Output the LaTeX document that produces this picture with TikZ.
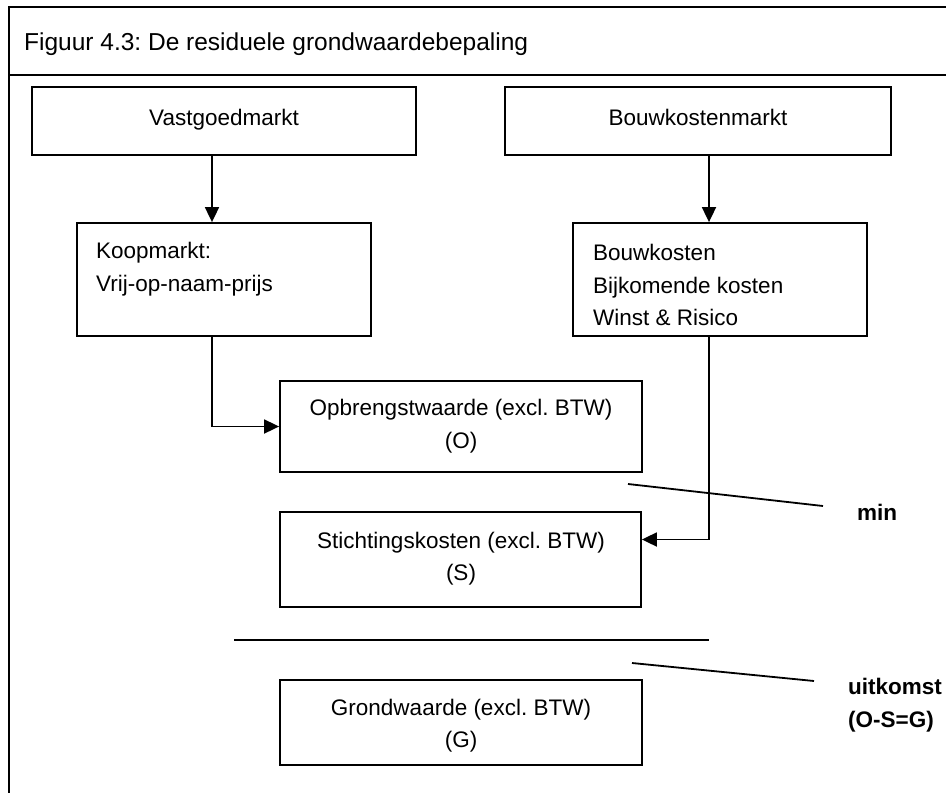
\documentclass[tikz,border=0pt]{standalone}
\usepackage{fontspec}
\setmainfont{Liberation Sans}
\usetikzlibrary{arrows.meta}
\frenchspacing

\begin{document}
\begin{tikzpicture}[x=1pt,y=-1pt,
  frameline/.style={line width=1.8pt},
  box/.style={draw,line width=1.8pt,inner sep=0pt,minimum width=#1},
  txt/.style={font=\fontsize{22.5}{32.5}\selectfont,inner sep=0pt},
  lefttxt/.style={txt,align=left,anchor=west},
  boldtxt/.style={txt,font=\fontsize{22.5}{32.5}\selectfont\bfseries,anchor=west},
  conn/.style={line width=1.8pt},
  arr/.style={conn,-{Triangle[length=15pt,width=14pt]}}]
\useasboundingbox (0,0) rectangle (946,793);

% outer frame with title bar
\draw[frameline] (946,7) -- (9,7) -- (9,793);
\draw[frameline] (9,75) -- (946,75);
\node[txt,anchor=base west,font=\fontsize{24.5}{30}\selectfont] (title) at (24,50)
  {Figuur 4.3: De residuele grondwaardebepaling};

% market boxes
\node[box=384pt,minimum height=68pt] (vast) at (224,121) {};
\node[txt,anchor=base] (vastT) at (224,125) {Vastgoedmarkt};
\node[box=386pt,minimum height=68pt] (bkm) at (698,121) {};
\node[txt,anchor=base] (bkmT) at (698,125) {Bouwkostenmarkt};

% second row
\node[box=294pt,minimum height=113pt] (koop) at (224,279.5) {};
\node[lefttxt] (koopT) at (96,269) {Koopmarkt:\\Vrij-op-naam-prijs};
\node[box=294pt,minimum height=113pt] (bk) at (720,279.5) {};
\node[lefttxt] (bkT) at (593,285) {Bouwkosten\\Bijkomende kosten\\Winst \& Risico};

% calculation column
\node[box=362pt,minimum height=91pt] (opb) at (461,426.5) {};
\node[txt,align=center] (opbT) at (461,426) {Opbrengstwaarde (excl. BTW)\\(O)};
\node[box=361pt,minimum height=95pt] (stich) at (460.5,559.5) {};
\node[txt,align=center] (stichT) at (461,558.5) {Stichtingskosten (excl. BTW)\\(S)};
\node[box=362pt,minimum height=85pt] (grond) at (461,722.5) {};
\node[txt,align=center] (grondT) at (461,725.5) {Grondwaarde (excl. BTW)\\(G)};

% connectors
\draw[arr] ([xshift=-12pt]vast.south) -- ([xshift=-12pt]koop.north);
\draw[arr] ([xshift=11pt]bkm.south) -- ([xshift=-11pt]bk.north);
\draw[arr] ([xshift=-12pt]koop.south) |- (opb.west);
\draw[arr] ([xshift=-11pt]bk.south) |- ([yshift=20pt]stich.east);

% subtraction line and annotations
\draw[conn] (234,640) -- (709,640);
\node[boldtxt] (minT) at (857,512) {min};
\node[boldtxt,align=left] (uitT) at (848,705) {uitkomst\\(O-S=G)};
\draw[conn] (628,484) -- (823,506);
\draw[conn] (632,663) -- (814,681);
\end{tikzpicture}
\end{document}
